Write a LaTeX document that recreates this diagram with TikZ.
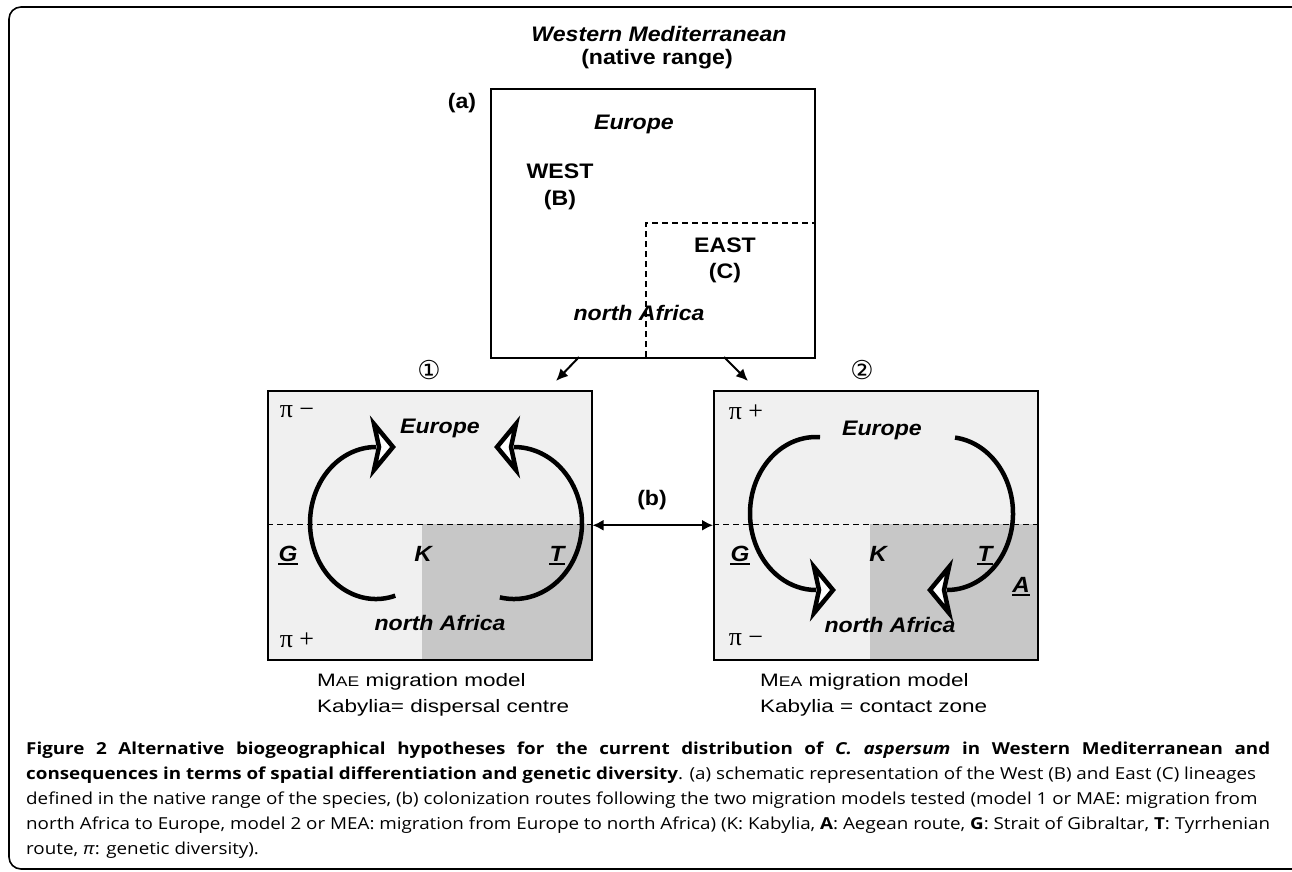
\documentclass[tikz,border=0pt]{standalone}
\usepackage{fontspec}
\usetikzlibrary{arrows.meta}
\setmainfont{Liberation Sans}
\newfontfamily\capfont[FakeStretch=1.14]{Open Sans}
\newfontfamily\sfw[FakeStretch=1.1]{Liberation Sans}
\newfontfamily\sfl[FakeStretch=1.25]{Liberation Sans}
\newfontfamily\serifpi{Liberation Serif}
\newfontfamily\dv{DejaVu Sans}
\tikzset{
  lbl/.style={inner sep=0pt, font=\sfw\fontsize{21}{24}\selectfont\bfseries},
  lbli/.style={inner sep=0pt, font=\sfw\fontsize{21}{24}\selectfont\bfseries\itshape},
  letterlbl/.style={inner sep=0pt, font=\sfw\fontsize{22}{24}\selectfont\bfseries\itshape},
  pilbl/.style={inner sep=0pt, font=\serifpi\fontsize{26}{28}\selectfont},
  circnum/.style={inner sep=0pt, font=\dv\fontsize{26}{28}\selectfont},
  modl/.style={inner sep=0pt, anchor=base west, font=\sfl\fontsize{18}{20}\selectfont},
  captxt/.style={inner sep=0pt, anchor=base west, font=\capfont\fontsize{16.5}{20}\selectfont},
  panelbox/.style={draw, line width=1.5pt, minimum width=324pt, minimum height=269pt, anchor=north west, inner sep=0pt},
  route/.style={line width=4.5pt},
  linkarrow/.style={line width=2pt, -{Latex[length=12pt,width=11pt]}},
  ulline/.style={line width=2pt},
  dashline/.style={line width=1.2pt, dash pattern=on 6pt off 4pt},
  headR/.pic={\draw[fill=white, line width=4.5pt, line join=miter, miter limit=10] (0,-23) -- (19,0) -- (0,23) -- (5,0) -- cycle;},
  headL/.pic={\draw[fill=white, line width=4.5pt, line join=miter, miter limit=10] (0,-23) -- (-19,0) -- (0,23) -- (-5,0) -- cycle;},
}
\begin{document}
\begin{tikzpicture}[x=1pt,y=-1pt]
\useasboundingbox (0,0) rectangle (1292,871);
\clip (0,0) rectangle (1292,871);
\fill[white] (0,0) rectangle (1292,871);
% outer frame
\draw[line width=1.6pt, rounded corners=12pt] (9,7) rectangle (1330,869);

% ---------- top part (a)
\node[lbli] (title) at (659,34) {Western Mediterranean};
\node[lbl] (native) at (657,59) {(native range)};
\node[lbl] (alab) at (462,103) {(a)};
\node[panelbox] (boxa) at (490,88) {};
\draw[dashline] (646,357) -- (646,223) -- (814,223);
\node[lbli] (eur0) at (634,124) {Europe};
\node[lbl] (west) at (560,171) {WEST};
\node[lbl] (wb) at (560,200) {(B)};
\node[lbl] (east) at (725,245) {EAST};
\node[lbl] (ec) at (725,273) {(C)};
\node[lbli] (naf0) at (639,313) {north Africa};

\coordinate (a1s) at (579,357);
\coordinate (a1e) at (556,381);
\coordinate (a2s) at (724,357);
\coordinate (a2e) at (748,381);
\draw[linkarrow] (a1s) -- (a1e);
\draw[linkarrow] (a2s) -- (a2e);

\node[circnum] (n1) at (429,370) {①};
\node[circnum] (n2) at (862,370) {②};

% ---------- panel 1
\fill[black!6] (267,390) rectangle (591,659);
\fill[black!22] (422,524) rectangle (591,659);
\draw[dashline, line width=1pt] (267,524) -- (591,524);
\node[panelbox] (p1) at (267,390) {};
% ---------- panel 2
\fill[black!6] (713,390) rectangle (1037,659);
\fill[black!22] (870,524) rectangle (1037,659);
\draw[dashline, line width=1pt] (713,524) -- (1037,524);
\node[panelbox] (p2) at (713,390) {};

% (b)
\node[lbl] (blab) at (652,500) {(b)};
\draw[line width=1.8pt, {Latex[length=11pt,width=11pt]}-{Latex[length=11pt,width=11pt]}] (p1.east) -- (p2.west);

% panel 1 labels
\node[pilbl] (pi1a) at (297,412) {π −};
\node[pilbl] (pi1b) at (297,640) {π +};
\node[lbli] (eur1) at (440,428) {Europe};
\node[lbli] (naf1) at (440,623) {north Africa};
\node[letterlbl, anchor=base] (g1) at (288,561) {G};
\draw[ulline] ([yshift=-3pt]g1.base west) -- ([yshift=-3pt]g1.base east);
\node[letterlbl, anchor=base] (k1) at (423,561) {K};
\node[letterlbl, anchor=base] (t1) at (557,561) {T};
\draw[ulline] ([yshift=-3pt]t1.base west) -- ([yshift=-3pt]t1.base east);
% routes panel 1
\draw[route] ([shift={(73:66 and 76)}]376,523) arc[start angle=73, end angle=270, x radius=66, y radius=76];
\pic at (374,447) {headR};
\draw[route] ([shift={(102:68 and 76)}]514,523) arc[start angle=102, end angle=-90, x radius=68, y radius=76];
\pic at (516,447) {headL};

% panel 2 labels
\node[pilbl] (pi2a) at (746,412) {π +};
\node[pilbl] (pi2b) at (746,640) {π −};
\node[lbli] (eur2) at (882,430) {Europe};
\node[lbli] (naf2) at (890,625) {north Africa};
\node[letterlbl, anchor=base] (g2) at (740,561) {G};
\draw[ulline] ([yshift=-3pt]g2.base west) -- ([yshift=-3pt]g2.base east);
\node[letterlbl, anchor=base] (k2) at (878,561) {K};
\node[letterlbl, anchor=base] (t2) at (985,561) {T};
\draw[ulline] ([yshift=-3pt]t2.base west) -- ([yshift=-3pt]t2.base east);
\node[letterlbl, anchor=base] (a2) at (1021,592) {A};
\draw[ulline] ([yshift=-3pt]a2.base west) -- ([yshift=-3pt]a2.base east);
% routes panel 2
\draw[route] ([shift={(273.5:66 and 76.5)}]816,513.5) arc[start angle=273.5, end angle=90, x radius=66, y radius=76.5];
\pic at (814,590) {headR};
\draw[route] ([shift={(-83:66 and 76.5)}]947,513.5) arc[start angle=-83, end angle=90, x radius=66, y radius=76.5];
\pic at (949,590) {headL};

% model labels
\node[modl] (m1a) at (317,686) {M{\fontsize{14}{15}\selectfont AE} migration model};
\node[modl] (m1b) at (317,712) {Kabylia= dispersal centre};
\node[modl] (m2a) at (760,686) {M{\fontsize{14}{15}\selectfont EA} migration model};
\node[modl] (m2b) at (760,712) {Kabylia = contact zone};

% caption
\node[captxt] (c1) at (26,754) {\makebox[1244pt][s]{\bfseries Figure 2 Alternative biogeographical hypotheses for the current distribution of \textit{C. aspersum} in Western Mediterranean and}};
\node[captxt] (c2) at (26,779) {\textbf{consequences in terms of spatial differentiation and genetic diversity}. (a) schematic representation of the West (B) and East (C) lineages};
\node[captxt] (c3) at (26,804.5) {defined in the native range of the species, (b) colonization routes following the two migration models tested (model 1 or MAE: migration from};
\node[captxt] (c4) at (26,829.5) {north Africa to Europe, model 2 or MEA: migration from Europe to north Africa) (K: Kabylia, \textbf{A}: Aegean route, \textbf{G}: Strait of Gibraltar, \textbf{T}: Tyrrhenian};
\node[captxt] (c5) at (26,854.5) {route, \textit{π}: genetic diversity).};
\end{tikzpicture}
\end{document}
